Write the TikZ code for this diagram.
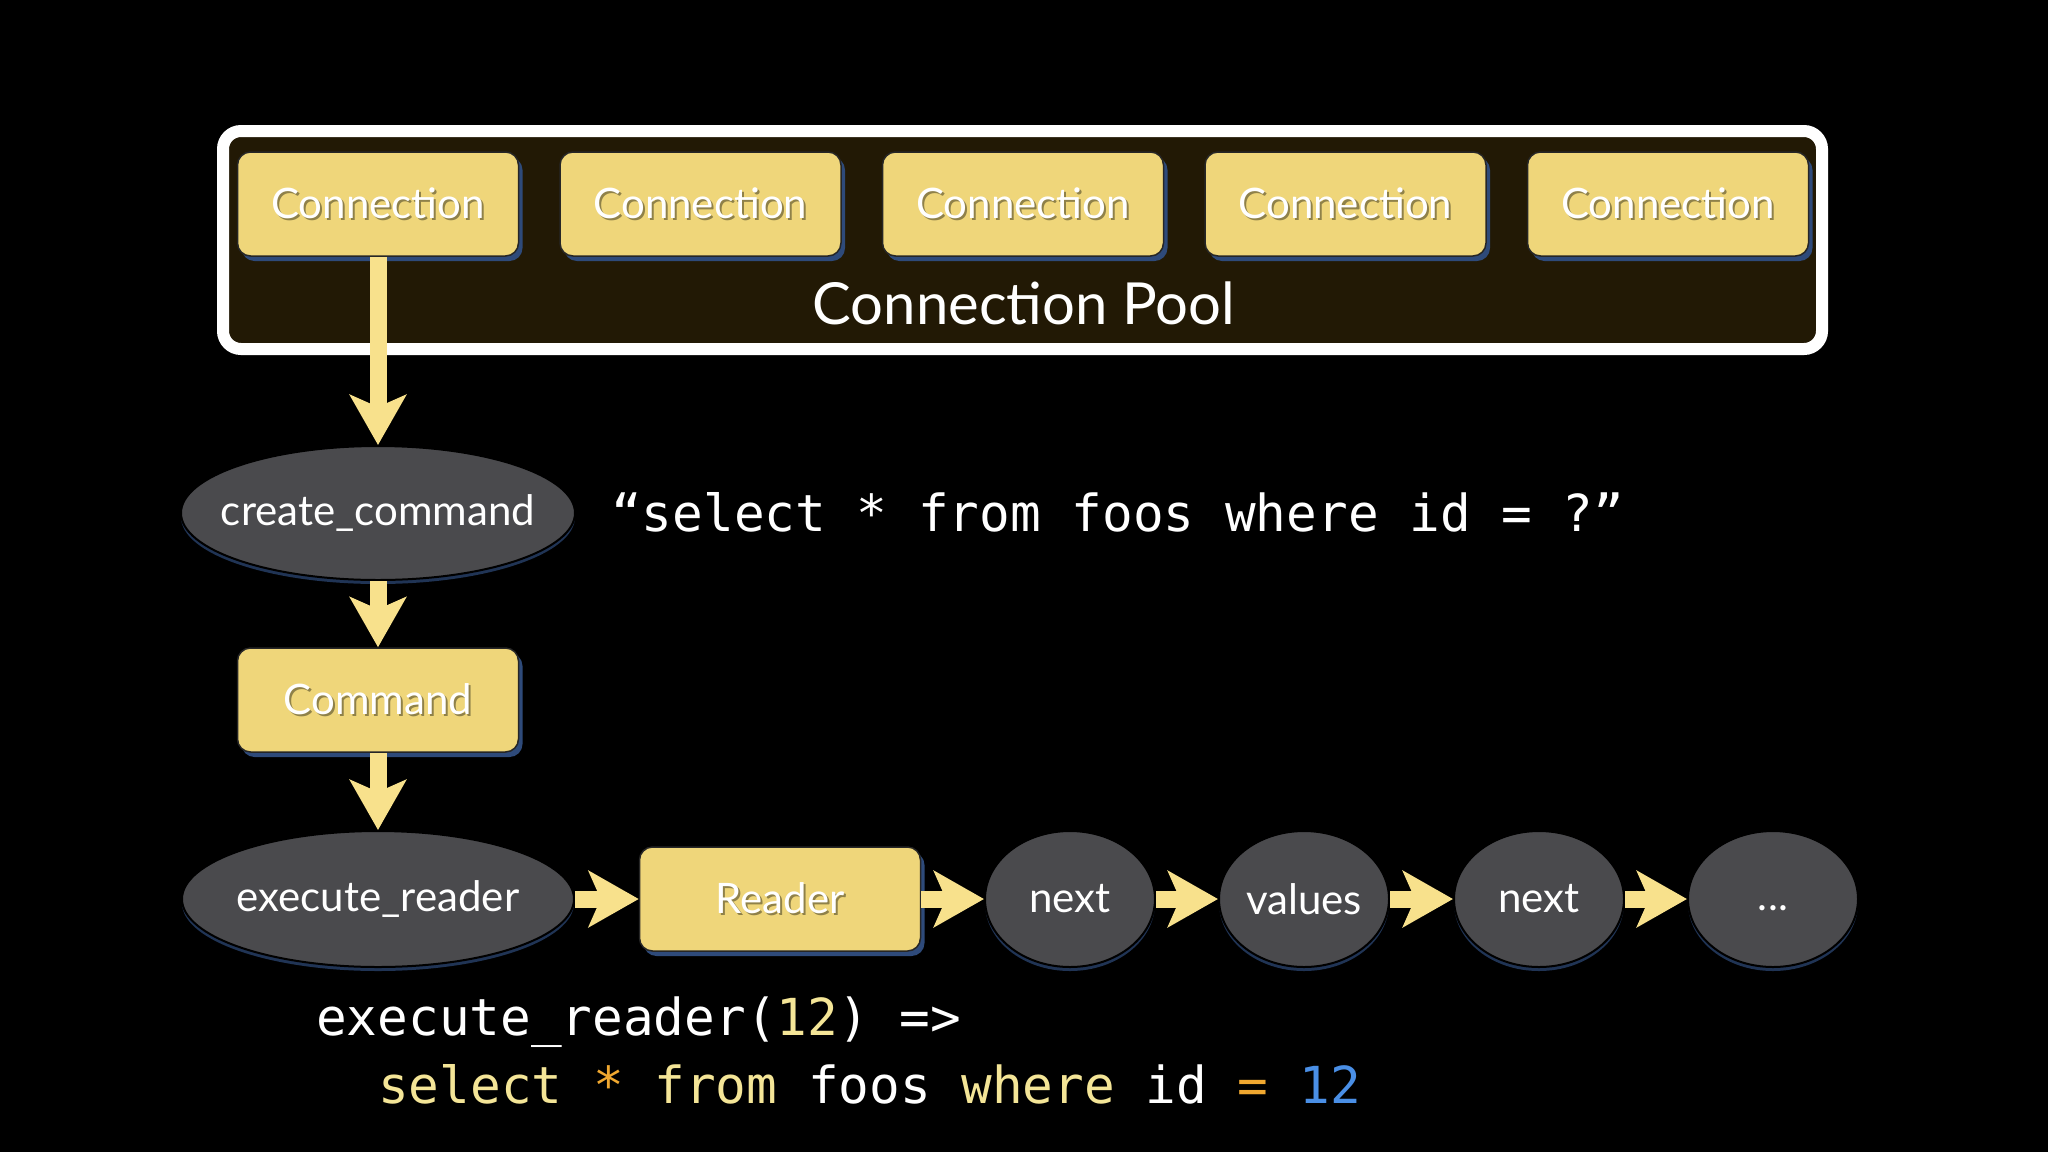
\documentclass[tikz,border=0pt]{standalone}
\usepackage{fontspec}
\usetikzlibrary{shapes.geometric,arrows.meta,shadows}
\newfontfamily\gillfont{Lato}
\newfontfamily\codefont{DejaVu Sans Mono}
\definecolor{boxyellow}{HTML}{EFD67A}
\definecolor{arrowyellow}{HTML}{F8E18C}
\definecolor{nodegray}{HTML}{4A4A4D}
\definecolor{poolfill}{HTML}{221905}
\definecolor{shadowblue}{HTML}{2E4A7A}
\definecolor{codeyellow}{HTML}{F4E597}
\definecolor{codeorange}{HTML}{F0A830}
\definecolor{codeblue}{HTML}{4A8FE6}
\newcommand{\shtxt}[1]{\leavevmode\rlap{\kern2pt\raisebox{-2pt}{\textcolor{boxyellow!60!black}{#1}}}\textcolor{white}{#1}}
\begin{document}
\begin{tikzpicture}[x=1pt,y=-1pt,
  ybox/.style={rectangle, rounded corners=13pt, fill=boxyellow, draw=black!85, line width=1.5pt,
    minimum width=281pt, minimum height=104pt, inner sep=0pt,
    font=\gillfont\fontsize{42}{50}\selectfont,
    drop shadow={shadow xshift=4pt, shadow yshift=-5pt, fill=shadowblue, opacity=1}},
  gell/.style={ellipse, fill=nodegray, draw=black, line width=2pt, inner xsep=-40pt, inner ysep=0pt, text=white,
    font=\gillfont\fontsize{42}{50}\selectfont,
    drop shadow={shadow xshift=0pt, shadow yshift=-4pt, fill=shadowblue!70!black, opacity=1}},
  flow/.style={draw=arrowyellow, line width=17pt, -{Stealth[length=50pt,width=56pt,inset=12pt]}},
  codetxt/.style={inner sep=0pt, anchor=west, text=white, font=\codefont\fontsize{51}{60}\selectfont,
    text height=38pt, text depth=10pt}
]
\fill[black] (0,0) rectangle (2048,1152);
\useasboundingbox (0,0) rectangle (2048,1152);

% connection pool
\node[draw=white, line width=12pt, fill=poolfill, rounded corners=18pt,
  minimum width=1599pt, minimum height=218pt, inner sep=0pt] (pool) at (1022.5,240) {};
\node[text=white, inner sep=0pt, font=\gillfont\fontsize{58}{66}\selectfont] (poollabel) at (1024,303) {Connection Pool};

\node[ybox] (c1) at (378,204) {\shtxt{Connection}};
\node[ybox] (c2) at (700.5,204) {\shtxt{Connection}};
\node[ybox] (c3) at (1023,204) {\shtxt{Connection}};
\node[ybox] (c4) at (1345.5,204) {\shtxt{Connection}};
\node[ybox] (c5) at (1668,204) {\shtxt{Connection}};

% flow
\node[gell, minimum width=394pt, minimum height=134pt] (cc) at (378,513) {create\_command};
\node[ybox] (cmd) at (378,700) {\shtxt{Command}};
\node[gell, minimum width=392pt, minimum height=136pt] (er) at (378,899) {execute\_reader};
\node[ybox] (reader) at (780,899) {\shtxt{Reader}};
\node[gell, minimum width=170pt, minimum height=136pt] (n1) at (1070,899) {next};
\node[gell, minimum width=170pt, minimum height=136pt] (vals) at (1304,899) {values};
\node[gell, minimum width=170pt, minimum height=136pt] (n2) at (1539,899) {next};
\node[gell, minimum width=170pt, minimum height=136pt] (dots) at (1773,899) {\vphantom{Ag}.\kern1pt.\kern1pt.};

\draw[flow] (c1.south) -- (cc.north);
\draw[flow] (cc.south) -- (cmd.north);
\draw[flow] (cmd.south) -- (er.north);
\draw[flow] (er.east) -- (reader.west);
\draw[flow] (reader.east) -- (n1.west);
\draw[flow] (n1.east) -- (vals.west);
\draw[flow] (vals.east) -- (n2.west);
\draw[flow] (n2.east) -- (dots.west);

% code texts
\node[codetxt] (sql) at (611,517) {“select * from foos where id = ?”};
\node[codetxt] (code1) at (316,1021) {execute\_reader(\textcolor{codeyellow}{12}) =>};
\node[codetxt] (code2) at (378,1089) {\textcolor{codeyellow}{select} \textcolor{codeorange}{*} \textcolor{codeyellow}{from} foos \textcolor{codeyellow}{where} id \textcolor{codeorange}{=} \textcolor{codeblue}{12}};
\end{tikzpicture}
\end{document}
